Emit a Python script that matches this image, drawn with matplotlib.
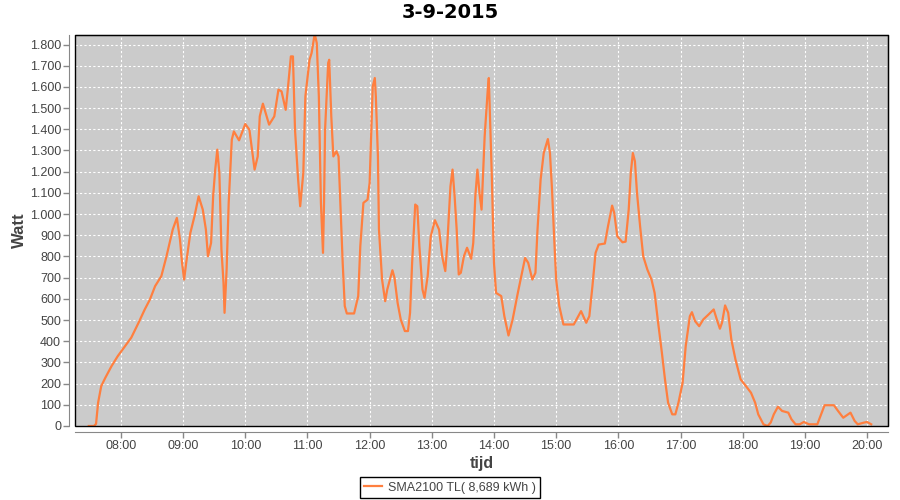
import matplotlib
matplotlib.use("Agg")
import matplotlib.pyplot as plt
from matplotlib.patches import Rectangle
from matplotlib.ticker import FuncFormatter, MultipleLocator

# readings of the SMA2100 TL inverter on 3-9-2015 (time, watt)
times = [
    "7:29", "7:34", "7:36", "7:38", "7:41", "7:45", "7:51", "7:57", "8:04", "8:10",
    "8:17", "8:23", "8:28", "8:33", "8:39", "8:44", "8:47", "8:50", "8:54", "8:57",
    "8:59", "9:01", "9:03", "9:07", "9:11", "9:15", "9:19", "9:22", "9:24", "9:27",
    "9:29", "9:31", "9:33", "9:35", "9:37", "9:39", "9:40", "9:42", "9:44", "9:47",
    "9:49", "9:54", "10:00", "10:04", "10:09", "10:12", "10:14", "10:17", "10:23", "10:28",
    "10:32", "10:35", "10:39", "10:41", "10:44", "10:46", "10:48", "10:51", "10:53", "10:56",
    "10:58", "11:02", "11:04", "11:07", "11:09", "11:11", "11:13", "11:15", "11:16", "11:17",
    "11:20", "11:21", "11:23", "11:25", "11:28", "11:30", "11:32", "11:34", "11:36", "11:38",
    "11:45", "11:49", "11:51", "11:54", "11:58", "12:00", "12:03", "12:05", "12:06", "12:08",
    "12:09", "12:12", "12:15", "12:17", "12:22", "12:24", "12:27", "12:30", "12:34", "12:37",
    "12:39", "12:41", "12:44", "12:46", "12:48", "12:51", "12:53", "12:56", "12:59", "13:03",
    "13:07", "13:10", "13:13", "13:15", "13:18", "13:20", "13:22", "13:24", "13:26", "13:28",
    "13:31", "13:34", "13:38", "13:40", "13:42", "13:44", "13:46", "13:48", "13:51", "13:54",
    "13:55", "13:56", "13:58", "14:00", "14:02", "14:07", "14:10", "14:14", "14:18", "14:23",
    "14:27", "14:30", "14:33", "14:37", "14:40", "14:42", "14:45", "14:48", "14:52", "14:54",
    "14:56", "14:58", "15:00", "15:03", "15:07", "15:17", "15:24", "15:29", "15:32", "15:35",
    "15:38", "15:41", "15:47", "15:50", "15:54", "15:56", "15:59", "16:04", "16:07", "16:10",
    "16:12", "16:14", "16:16", "16:18", "16:21", "16:24", "16:28", "16:32", "16:35", "16:38",
    "16:42", "16:45", "16:48", "16:52", "16:55", "16:58", "17:02", "17:05", "17:09", "17:11",
    "17:14", "17:18", "17:22", "17:27", "17:32", "17:35", "17:38", "17:40", "17:43", "17:46",
    "17:49", "17:53", "17:58", "18:03", "18:08", "18:12", "18:15", "18:20", "18:24", "18:27",
    "18:30", "18:34", "18:38", "18:44", "18:47", "18:51", "18:55", "18:59", "19:04", "19:12",
    "19:15", "19:19", "19:28", "19:32", "19:37", "19:44", "19:48", "19:51", "19:57", "20:00",
    "20:04",
]
watt = [
    0, 0, 10, 110, 188, 228, 283, 330, 377, 417,
    487, 550, 597, 660, 707, 801, 864, 927, 982, 880,
    770, 691, 770, 911, 990, 1084, 1021, 927, 801, 864,
    1084, 1210, 1304, 1194, 833, 676, 534, 738, 1053, 1351,
    1390, 1348, 1425, 1398, 1210, 1272, 1461, 1521, 1422, 1461,
    1587, 1579, 1492, 1587, 1744, 1744, 1398, 1163, 1037, 1194,
    1555, 1728, 1760, 1850, 1807, 1555, 1053, 817, 1053, 1398,
    1713, 1728, 1461, 1272, 1296, 1272, 1021, 770, 566, 531,
    531, 613, 848, 1053, 1068, 1147, 1602, 1642, 1555, 1272,
    927, 691, 589, 644, 735, 699, 581, 503, 448, 448,
    534, 770, 1045, 1037, 848, 644, 605, 707, 895, 971,
    927, 801, 731, 864, 1131, 1210, 1084, 927, 715, 723,
    801, 841, 789, 864, 1084, 1210, 1100, 1021, 1367, 1587,
    1642, 1477, 1163, 770, 628, 613, 518, 427, 503, 628,
    723, 793, 770, 691, 723, 927, 1163, 1288, 1354, 1288,
    1115, 895, 691, 566, 479, 479, 542, 487, 518, 660,
    817, 856, 861, 942, 1040, 1006, 895, 867, 870, 1021,
    1194, 1288, 1249, 1100, 942, 801, 738, 691, 628, 503,
    346, 220, 110, 55, 55, 110, 204, 377, 518, 537,
    495, 471, 503, 526, 550, 503, 459, 487, 569, 534,
    409, 314, 220, 189, 157, 110, 55, 8, 0, 16,
    55, 91, 71, 63, 32, 8, 8, 19, 8, 8,
    47, 98, 98, 71, 39, 63, 24, 8, 16, 19,
    8,
]
hour_ticks = list(range(8, 21))
series_label = "SMA2100 TL( 8,689 kWh )"

minutes = [int(t.split(":")[0]) * 60 + int(t.split(":")[1]) for t in times]

plt.rcParams["font.family"] = ["Liberation Sans", "DejaVu Sans"]
txt = "#444444"

fig = plt.figure(figsize=(9, 5), dpi=100)
ax = fig.add_axes([75 / 900, 74 / 500, 813 / 900, 391 / 500])
ax.set_facecolor("#cbcbcb")

line, = ax.plot(minutes, watt, color="#ff7f3f", lw=1.6, label=series_label)

ax.set_xlim(435.7, 1220.2)
ax.set_ylim(0, 1845)
ax.set_xticks([h * 60 for h in hour_ticks])
ax.xaxis.set_major_formatter(FuncFormatter(lambda m, p: f"{int(m) // 60:02d}:00"))
ax.yaxis.set_major_locator(MultipleLocator(100))
ax.yaxis.set_major_formatter(FuncFormatter(lambda v, p: f"{int(v):,}".replace(",", ".")))

ax.grid(True, color="white", linestyle=(0, (2, 2)), lw=0.8)
ax.set_axisbelow(True)

for side in ("left", "bottom"):
    ax.spines[side].set_position(("outward", 4))
    ax.spines[side].set_color("#888888")
for side in ("top", "right"):
    ax.spines[side].set_color("black")
ax.add_patch(Rectangle((0, 0), 1, 1, transform=ax.transAxes, fill=False,
                       edgecolor="black", lw=1, clip_on=False, zorder=5))

ax.tick_params(axis="both", colors="#888888", labelcolor=txt, labelsize=9,
               length=4, width=1, pad=2)

ax.set_xlabel("tijd", fontsize=11.5, fontweight="bold", color=txt, labelpad=3)
ax.set_ylabel("Watt", fontsize=12, fontweight="bold", color=txt)
ax.yaxis.set_label_coords(-0.059, 0.5)
fig.suptitle("3-9-2015", fontsize=14, fontweight="bold", y=0.975, va="center",
             family="DejaVu Sans")

leg = fig.legend(handles=[line], loc="center", bbox_to_anchor=(0.5, 0.025),
                 fancybox=False, edgecolor="black", framealpha=1, fontsize=9,
                 handlelength=1.4, handletextpad=0.5, borderpad=0.35)
leg.get_frame().set_linewidth(1)
for t in leg.get_texts():
    t.set_color(txt)

fig.savefig("out.png", dpi=100)
